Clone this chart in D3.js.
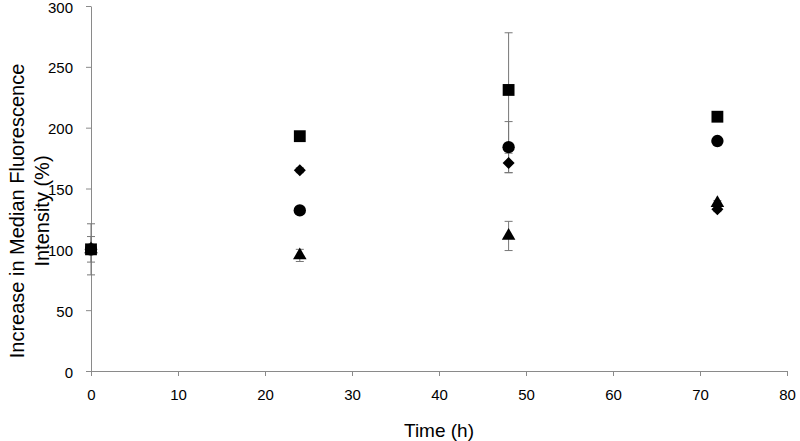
<!DOCTYPE html>
<html><head><meta charset="utf-8">
<script src="https://cdn.jsdelivr.net/npm/d3@7"></script>
<style>body{margin:0;background:#fff}svg{display:block}</style>
</head><body>
<svg id="c" width="800" height="441"></svg>
<script>
const times = [0, 24, 48, 72];
const squareVals = [100, 193, 231, 209];
const squareErr = [0, 3, 47, 2];
const diamondVals = [100, 165, 171, 133];
const diamondErr = [10.5, 2, 8, 2];
const circleVals = [100, 132, 184, 189];
const circleErr = [21, 2, 21, 2];
const triangleVals = [100, 95, 111, 138];
const triangleErr = [0, 5, 12, 2];
const xTicks = [0, 10, 20, 30, 40, 50, 60, 70, 80];
const yTicks = [0, 50, 100, 150, 200, 250, 300];

const series = [
  {shape: d3.symbolSquare, size: 140, rot: 0, vals: squareVals, err: squareErr},
  {shape: d3.symbolSquare, size: 72, rot: 45, vals: diamondVals, err: diamondErr},
  {shape: d3.symbolCircle, size: 120, rot: 0, vals: circleVals, err: circleErr},
  {shape: d3.symbolTriangle, size: 80, rot: 0, vals: triangleVals, err: triangleErr}
];

const svg = d3.select("#c");
const x = d3.scaleLinear().domain([0, 80]).range([91, 787]);
const y = d3.scaleLinear().domain([0, 300]).range([371, 6]);
const font = "'Liberation Sans', Arial, sans-serif";
const axisColor = "#8a8a8a";

const xa = svg.append("g").attr("transform", "translate(0,371)")
  .call(d3.axisBottom(x).tickValues(xTicks).tickSize(5).tickPadding(13).tickSizeOuter(0));
const ya = svg.append("g").attr("transform", "translate(91,0)")
  .call(d3.axisLeft(y).tickValues(yTicks).tickSize(5).tickPadding(13).tickSizeOuter(0));
[xa, ya].forEach(a => {
  a.select(".domain").attr("stroke", axisColor);
  a.selectAll(".tick line").attr("stroke", axisColor);
  a.selectAll("text").attr("fill", "#000").style("font-family", font).style("font-size", "15px");
});
ya.selectAll("text").attr("dy", "0.4em");

// error bars
const capW = 4;
series.forEach(s => {
  const g = svg.append("g").attr("stroke", "#777").attr("stroke-width", 1);
  times.forEach((t, i) => {
    if (!s.err[i]) return;
    const cx = x(t), y1 = y(s.vals[i] + s.err[i]), y2 = y(s.vals[i] - s.err[i]);
    g.append("line").attr("x1", cx).attr("x2", cx).attr("y1", y1).attr("y2", y2);
    g.append("line").attr("x1", cx - capW).attr("x2", cx + capW).attr("y1", y1).attr("y2", y1);
    g.append("line").attr("x1", cx - capW).attr("x2", cx + capW).attr("y1", y2).attr("y2", y2);
  });
});

// markers
series.slice().reverse().forEach(s => {
  svg.append("g").selectAll("path").data(times).join("path")
    .attr("transform", (t, i) => `translate(${x(t)},${y(s.vals[i])}) rotate(${s.rot})`)
    .attr("d", d3.symbol().type(s.shape).size(s.size))
    .attr("fill", "#000");
});

svg.append("text").attr("x", (x(0) + x(80)) / 2).attr("y", 437)
  .attr("text-anchor", "middle").style("font-family", font).style("font-size", "19px")
  .text("Time (h)");
const yl = svg.append("text").attr("transform", "translate(0,211) rotate(-90)")
  .attr("text-anchor", "middle").style("font-family", font).style("font-size", "20px");
yl.append("tspan").attr("x", 0).attr("y", 24).text("Increase in Median Fluorescence");
yl.append("tspan").attr("x", 0).attr("y", 49).text("Intensity (%)");
</script>
</body></html>
